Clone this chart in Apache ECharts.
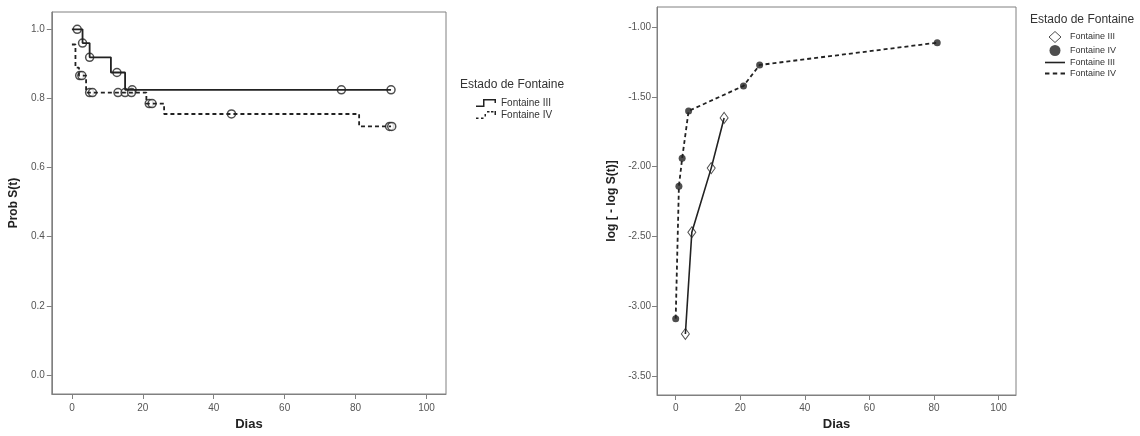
<!DOCTYPE html>
<html>
<head>
<meta charset="utf-8">
<script src="https://cdn.jsdelivr.net/npm/echarts@6/dist/echarts.min.js"></script>
<style>
  body { margin: 0; background: #fff; }
  #izq, #der { position: absolute; top: 0; width: 570px; height: 436px; }
  #izq { left: 0; }
  #der { left: 570px; }
</style>
</head>
<body>
<div id="izq"></div>
<div id="der"></div>
<script>
// Kaplan-Meier (izquierda)
var diasKM3 = [0, 3, 5, 11, 15, 90];
var probKM3 = [1.0, 0.96, 0.919, 0.875, 0.825, 0.825];
var diasKM4 = [0, 1, 2, 4, 21, 26, 81, 90];
var probKM4 = [0.956, 0.889, 0.866, 0.817, 0.785, 0.755, 0.719, 0.719];
// censurados
var censDias3 = [1.5, 3, 5, 12.7, 17, 76, 90];
var censProb3 = [1.0, 0.96, 0.919, 0.875, 0.825, 0.825, 0.825];
var censDias4 = [2.2, 2.8, 5, 5.8, 13, 15, 16.8, 21.8, 22.6, 45, 89.6, 90.2];
var censProb4 = [0.866, 0.866, 0.817, 0.817, 0.817, 0.817, 0.817, 0.785, 0.785, 0.755, 0.719, 0.719];
// log(-log S) (derecha)
var llDias3 = [3, 5, 11, 15];
var llVal3 = [-3.20, -2.47, -2.01, -1.65];
var llDias4 = [0, 1, 2, 4, 21, 26, 81];
var llVal4 = [-3.09, -2.14, -1.94, -1.60, -1.42, -1.27, -1.11];
// ticks
var ticksDias = [0, 20, 40, 60, 80, 100];
var ticksProb = [0, 0.2, 0.4, 0.6, 0.8, 1.0];
var ticksLL = [-3.5, -3.0, -2.5, -2.0, -1.5, -1.0];

var fuente = 'Liberation Sans, Arial, sans-serif';
var negro = '#222';
var gris = '#808080';

function pares(xs, ys) {
  return xs.map(function (x, i) { return [x, ys[i]]; });
}

function ejeX(min, max, margen, gap) {
  return {
    type: 'value', min: min, max: max,
    name: 'Dias', nameLocation: 'middle', nameGap: gap,
    nameTextStyle: { fontFamily: fuente, fontSize: 13, fontWeight: 'bold', color: '#222' },
    axisLine: { show: true, onZero: false, lineStyle: { color: gris } },
    axisTick: { show: true, length: 5, customValues: ticksDias, lineStyle: { color: gris } },
    axisLabel: { customValues: ticksDias, margin: margen, fontFamily: fuente, fontSize: 10, color: '#555' },
    splitLine: { show: false }
  };
}

function ejeY(min, max, ticks, dec, nombre, gap, margen) {
  return {
    type: 'value', min: min, max: max,
    name: nombre, nameLocation: 'middle', nameGap: gap,
    nameTextStyle: { fontFamily: fuente, fontSize: 12, fontWeight: 'bold', color: '#222' },
    axisLine: { show: true, onZero: false, lineStyle: { color: gris } },
    axisTick: { show: true, length: 5, customValues: ticks, lineStyle: { color: gris } },
    axisLabel: {
      customValues: ticks, margin: margen, fontFamily: fuente, fontSize: 10, color: '#555',
      formatter: function (v) { return v.toFixed(dec); }
    },
    splitLine: { show: false }
  };
}

var iconoEscalon = 'path://M0,6.5H7V0H20V4H18.5V1.5H8.5V8H0Z';
var iconoEscalonDiscontinuo = 'path://M0,6.5h2.5v1.5h-2.5z M5,6.5h2.5v1.5h-2.5z M8.5,3h1.5v2.5h-1.5z M11,0h2.5v1.5h-2.5z M15,0h2.5v1.5h-2.5z M18.5,0h1.5v4h-1.5z';
var iconoRombo = 'path://M6,0L12,5.5L6,11L0,5.5Z';
var iconoLinea = 'path://M0,0h20v1.6h-20z';
var iconoLineaDiscontinua = 'path://M0,0h4v1.6h-4z M7,0h4v1.6h-4z M14,0h4v1.6h-4z';

var graficoIzq = echarts.init(document.getElementById('izq'));
graficoIzq.setOption({
  animation: false,
  title: {
    text: 'Estado de Fontaine', left: 460, top: 79, padding: 0,
    textStyle: { fontFamily: fuente, fontSize: 12, fontWeight: 'normal', color: '#333' }
  },
  legend: {
    orient: 'vertical', left: 476, top: 98, padding: 0,
    itemWidth: 20, itemHeight: 8, itemGap: 2,
    itemStyle: { borderWidth: 0 },
    textStyle: { fontFamily: fuente, fontSize: 10, color: '#333' },
    data: [
      { name: 'Fontaine III', icon: iconoEscalon },
      { name: 'Fontaine IV', icon: iconoEscalonDiscontinuo }
    ]
  },
  grid: { left: 48, top: 12, width: 398, height: 385, show: true, borderColor: gris, borderWidth: 1 },
  xAxis: ejeX(-5.67, 105.5, 9, 24),
  yAxis: ejeY(-0.055, 1.05, ticksProb, 1, 'Prob S(t)', 27, 7),
  series: [
    {
      name: 'Fontaine III', type: 'line', step: 'end', symbol: 'none',
      data: pares(diasKM3, probKM3),
      itemStyle: { color: negro },
      lineStyle: { color: negro, width: 1.8 }
    },
    {
      name: 'Fontaine IV', type: 'line', step: 'end', symbol: 'none',
      data: pares(diasKM4, probKM4),
      itemStyle: { color: negro },
      lineStyle: { color: negro, width: 1.8, type: [4, 3] }
    },
    {
      name: 'Censurado III', type: 'scatter', symbol: 'circle', symbolSize: 8,
      data: pares(censDias3, censProb3),
      itemStyle: { color: '#fff', borderColor: negro, borderWidth: 1.5 }
    },
    {
      name: 'Censurado IV', type: 'scatter', symbol: 'circle', symbolSize: 8,
      data: pares(censDias4, censProb4),
      itemStyle: { color: '#fff', borderColor: negro, borderWidth: 1.5 }
    }
  ]
});

var graficoDer = echarts.init(document.getElementById('der'));
graficoDer.setOption({
  animation: false,
  title: {
    text: 'Estado de Fontaine', left: 460, top: 14, padding: 0,
    textStyle: { fontFamily: fuente, fontSize: 12, fontWeight: 'normal', color: '#333' }
  },
  legend: {
    orient: 'vertical', left: 475, top: 31, padding: 0,
    itemWidth: 20, itemHeight: 11, itemGap: 2,
    textStyle: { fontFamily: fuente, fontSize: 9, color: '#333' },
    formatter: function (n) { return n.replace('-linea', ''); },
    data: [
      { name: 'Fontaine III', icon: iconoRombo, itemStyle: { color: '#fff', borderColor: negro, borderWidth: 1 } },
      { name: 'Fontaine IV', icon: 'circle', itemStyle: { color: negro, borderWidth: 0 } },
      { name: 'Fontaine III-linea', icon: iconoLinea, itemStyle: { color: negro, borderWidth: 0 } },
      { name: 'Fontaine IV-linea', icon: iconoLineaDiscontinua, itemStyle: { color: negro, borderWidth: 0 } }
    ]
  },
  grid: { left: 87, top: 7, width: 359, height: 388, show: true, borderColor: gris, borderWidth: 1 },
  xAxis: ejeX(-5.79, 105.4, 8, 23),
  yAxis: ejeY(-3.638, -0.854, ticksLL, 2, 'log [ - log S(t)]', 34, 6),
  series: [
    {
      name: 'Fontaine III-linea', type: 'line', symbol: 'none',
      data: pares(llDias3, llVal3),
      itemStyle: { color: negro },
      lineStyle: { color: negro, width: 1.6 }
    },
    {
      name: 'Fontaine IV-linea', type: 'line', symbol: 'none',
      data: pares(llDias4, llVal4),
      itemStyle: { color: negro },
      lineStyle: { color: negro, width: 1.8, type: [4, 3] }
    },
    {
      name: 'Fontaine III', type: 'scatter', symbol: 'diamond', symbolSize: [8, 11],
      data: pares(llDias3, llVal3),
      itemStyle: { color: '#fff', borderColor: negro, borderWidth: 1 }
    },
    {
      name: 'Fontaine IV', type: 'scatter', symbol: 'circle', symbolSize: 7,
      data: pares(llDias4, llVal4),
      itemStyle: { color: negro }
    }
  ]
});
</script>
</body>
</html>
